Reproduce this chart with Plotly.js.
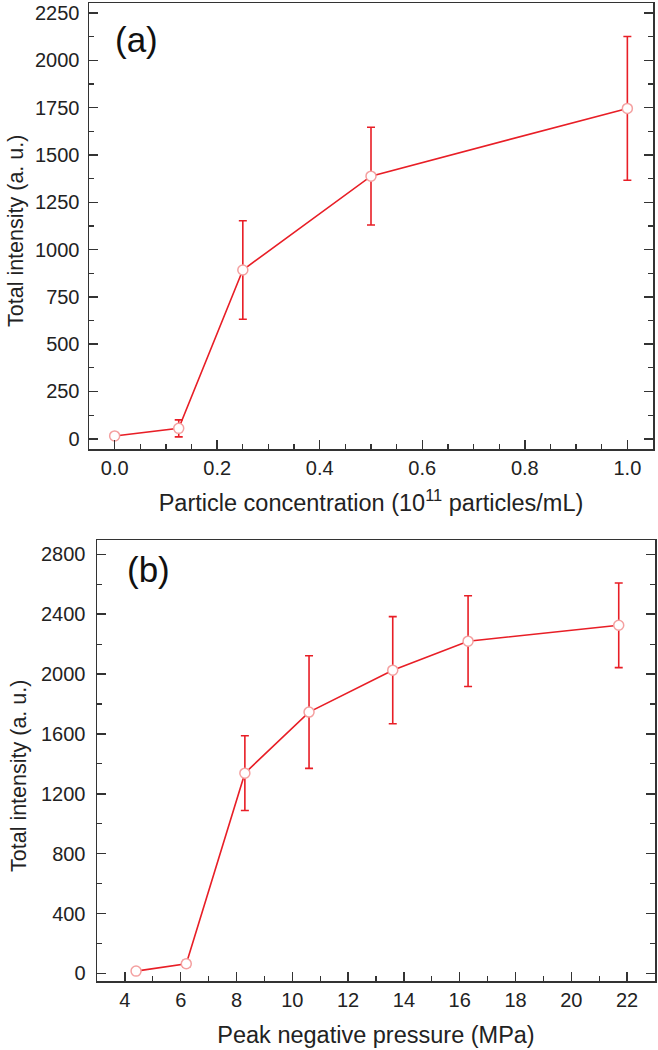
<!DOCTYPE html>
<html>
<head>
<meta charset="utf-8">
<script src="https://cdn.plot.ly/plotly-3.0.1.min.js"></script>
<style>html,body{margin:0;padding:0;background:#fff;}#chart{width:658px;height:1050px;}</style>
</head>
<body>
<div id="chart"></div>
<script>
// Panel (a): particle concentration
const concX = [0.0, 0.125, 0.25, 0.5, 1.0];
const concY = [15, 55, 892, 1388, 1746];
const concErr = [14, 45, 260, 258, 380];

// Panel (b): peak negative pressure
const pressX = [4.4, 6.2, 8.3, 10.6, 13.6, 16.3, 21.7];
const pressY = [15, 64, 1338, 1746, 2026, 2220, 2326];
const pressErr = [18, 22, 250, 376, 358, 303, 283];

const panelLabels = ['(a)', '(b)'];
const yTitle = 'Total intensity (a. u.)';

const RED = 'rgb(232,30,38)';
const MARK_LINE = 'rgb(244,160,160)';
const AX = '#333333';
const FONT = 'Liberation Sans, Arial, sans-serif';

function trace(x, y, e, xa, ya) {
  return {
    x: x, y: y, xaxis: xa, yaxis: ya, type: 'scatter', mode: 'lines+markers',
    line: {color: RED, width: 1.6},
    marker: {symbol: 'circle', size: 10, color: '#ffffff', line: {color: MARK_LINE, width: 1.5}},
    error_y: {type: 'data', array: e, visible: true, color: RED, thickness: 1.6, width: 4},
    showlegend: false, hoverinfo: 'x+y'
  };
}

function xax(domain, range, dtick, minor, fmt, anchor, title) {
  return {
    domain: domain, range: range, anchor: anchor, dtick: dtick, tick0: 0,
    tickformat: fmt, ticks: 'inside', ticklen: 9, tickwidth: 1.5, tickcolor: AX,
    minor: {dtick: minor, ticks: 'inside', ticklen: 5, tickwidth: 1.2, tickcolor: AX},
    showline: true, linecolor: AX, linewidth: 1.5, mirror: true,
    showgrid: false, zeroline: false,
    tickfont: {family: FONT, size: 20, color: '#222'},
    title: {text: title, font: {family: FONT, size: 23.5, color: '#222'}, standoff: 17},
    automargin: false
  };
}
function yax(domain, range, dtick, minor, anchor, lstand) {
  return {
    domain: domain, range: range, anchor: anchor, dtick: dtick, tick0: 0,
    ticks: 'inside', ticklen: 9, tickwidth: 1.5, tickcolor: AX,
    minor: {dtick: minor, ticks: 'inside', ticklen: 5, tickwidth: 1.2, tickcolor: AX},
    showline: true, linecolor: AX, linewidth: 1.5, mirror: 'ticks',
    showgrid: false, zeroline: false, ticklabelstandoff: lstand,
    tickfont: {family: FONT, size: 20, color: '#222'},
    automargin: false
  };
}

const H = 1050, W = 658;
const layout = {
  width: W, height: H,
  margin: {l: 0, r: 0, t: 0, b: 0},
  paper_bgcolor: '#ffffff', plot_bgcolor: '#ffffff',
  font: {family: FONT, color: '#222'},
  xaxis: xax([89/W, 653/W], [-0.05, 1.05], 0.2, 0.05, '.1f', 'y',
    'Particle concentration (10<sup>11</sup> particles/mL)'),
  yaxis: yax([1 - 449/H, 1 - 3/H], [-54, 2303], 250, 125, 'x', 4),
  xaxis2: xax([97/W, 655/W], [3, 23], 2, 1, 'd', 'y2', 'Peak negative pressure (MPa)'),
  yaxis2: yax([1 - 981/H, 1 - 540/H], [-51, 2896], 400, 200, 'x2', 6),
  annotations: [
    {text: panelLabels[0], xref: 'paper', yref: 'paper', x: 136/W, y: 1 - 39/H, showarrow: false,
     font: {family: FONT, size: 35, color: '#111'}, xanchor: 'center', yanchor: 'middle'},
    {text: panelLabels[1], xref: 'paper', yref: 'paper', x: 148/W, y: 1 - 569/H, showarrow: false,
     font: {family: FONT, size: 35, color: '#111'}, xanchor: 'center', yanchor: 'middle'},
    {text: yTitle, xref: 'paper', yref: 'paper', x: 16/W, y: 1 - 231/H, showarrow: false, textangle: -90,
     font: {family: FONT, size: 21.5, color: '#222'}, xanchor: 'center', yanchor: 'middle'},
    {text: yTitle, xref: 'paper', yref: 'paper', x: 19/W, y: 1 - 776/H, showarrow: false, textangle: -90,
     font: {family: FONT, size: 21.5, color: '#222'}, xanchor: 'center', yanchor: 'middle'}
  ]
};

Plotly.newPlot('chart', [
  trace(concX, concY, concErr, 'x', 'y'),
  trace(pressX, pressY, pressErr, 'x2', 'y2')
], layout, {displayModeBar: false, staticPlot: true});
</script>
</body>
</html>
